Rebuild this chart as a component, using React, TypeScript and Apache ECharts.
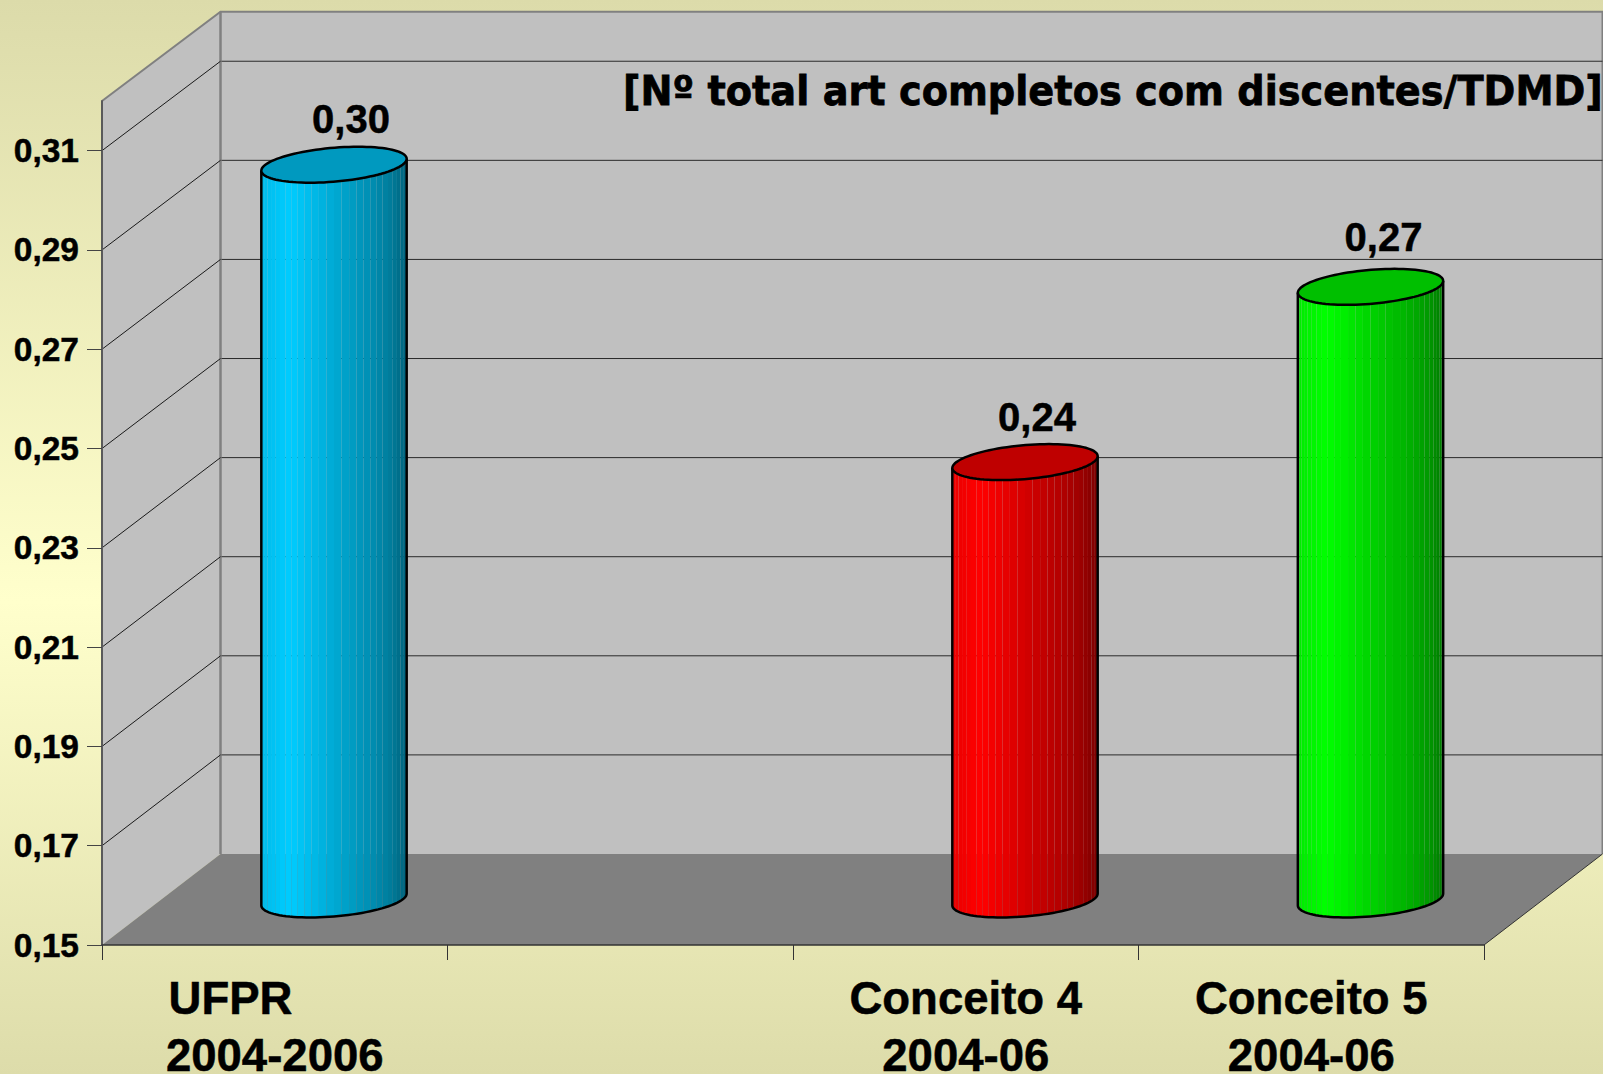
import React, { useEffect, useRef } from "react";
import * as echarts from "echarts";

// ---- data ----
const categories = ["UFPR\u00a0\u00a0\u00a0\u00a0\u00a0\u00a0\u00a0\n2004-2006", "", "Conceito 4\n2004-06", "Conceito 5\n2004-06"];
const values = [0.298, null, 0.2381, 0.2734];
const tickValues = [0.15, 0.17, 0.19, 0.21, 0.23, 0.25, 0.27, 0.29, 0.31];
const titleText = "[Nº total art completos com discentes/TDMD]";

// ---- styles and geometry ----
const axisMin = 0.15;
const axisMax = 0.32;
const baseRgb = [[0, 204, 255], null, [255, 0, 0], [0, 255, 0]];
const labelShift = [[17, -46], [0, 0], [12, -45], [13, -49.5]];
const DEPTH_X = 118.5;
const DEPTH_Y = -91;
const BACK_SCALE = 0.998;
const WALL = "#c0c0c0";
const FLOOR = "#808080";
const EDGE = "#808080";
const ELL_A = 68.6;
const ELL_B = 24;
const ELL_D = 18;
const STRIPS = 30;
const shadeStops = [[0, 0.92], [0.2, 1], [0.5, 0.83], [0.75, 0.7], [0.9, 0.6], [1, 0.48]];

const font = "'Liberation Sans', Arial, sans-serif";

function shadeAt(u: number) {
  for (let i = 1; i < shadeStops.length; i++) {
    if (u <= shadeStops[i][0]) {
      const [u0, s0] = shadeStops[i - 1];
      const [u1, s1] = shadeStops[i];
      return s0 + ((u - u0) / (u1 - u0)) * (s1 - s0);
    }
  }
  return 0.48;
}
const rgb = (c: number[], m: number) => `rgb(${c.map((v) => Math.round(v * m)).join(",")})`;
const fmt = (v: number) => v.toFixed(2).replace(".", ",");

function ellipsePoint(cx: number, cy: number, t: number) {
  return [cx + ELL_A * Math.cos(t) + ELL_B * Math.sin(t), cy - ELL_D * Math.sin(t)];
}

function renderWalls(params: any, api: any) {
  const cs = params.coordSys;
  const left = cs.x;
  const right = cs.x + cs.width;
  const floorY = api.coord([0, axisMin])[1];
  const topY = api.coord([0, axisMax])[1];
  const backFloorY = floorY + DEPTH_Y;
  const backTopY = backFloorY + (topY - floorY) * BACK_SCALE;
  const bl = left + DEPTH_X;
  const br = right + DEPTH_X;
  return {
    type: "group",
    children: [
      { type: "polygon", shape: { points: [[bl, backTopY], [br, backTopY], [br, backFloorY], [bl, backFloorY]] }, style: { fill: WALL } },
      { type: "polygon", shape: { points: [[left, topY], [bl, backTopY], [bl, backFloorY], [left, floorY]] }, style: { fill: WALL } },
      { type: "polygon", shape: { points: [[left, floorY], [bl, backFloorY], [br, backFloorY], [right, floorY]] }, style: { fill: FLOOR } },
      { type: "polyline", shape: { points: [[left, topY], [bl, backTopY], [br, backTopY], [br, backFloorY]] }, style: { fill: "none", stroke: EDGE, lineWidth: 2 } },
      { type: "line", shape: { x1: bl, y1: backTopY, x2: bl, y2: backFloorY }, style: { stroke: EDGE, lineWidth: 2.5 } },
      { type: "line", shape: { x1: right, y1: floorY, x2: br, y2: backFloorY }, style: { stroke: "#333", lineWidth: 1 } },
    ],
  };
}

function renderGridLine(params: any, api: any) {
  const v = api.value(1);
  if (v === axisMin) return { type: "group", children: [] };
  const cs = params.coordSys;
  const floorY = api.coord([0, axisMin])[1];
  const y = api.coord([0, v])[1];
  const backY = floorY + DEPTH_Y + (y - floorY) * BACK_SCALE;
  const bl = cs.x + DEPTH_X;
  const br = cs.x + cs.width + DEPTH_X;
  return {
    type: "group",
    children: [
      { type: "line", shape: { x1: cs.x, y1: y, x2: bl, y2: backY }, style: { stroke: "#1a1a1a", lineWidth: 1 } },
      { type: "line", shape: { x1: bl + 1, y1: backY, x2: br, y2: backY }, style: { stroke: "#2a2a2a", lineWidth: 1 } },
    ],
  };
}

function renderCylinder(params: any, api: any) {
  const v = api.value(1);
  const cat = api.value(0);
  const base = baseRgb[cat] as number[];
  const [fx, fTop] = api.coord([cat, v]);
  const fBottom = api.coord([cat, axisMin])[1];
  const cx = fx + DEPTH_X / 2;
  const cyTop = fTop + DEPTH_Y / 2;
  const cyBottom = fBottom + DEPTH_Y / 2;
  const tRight = Math.atan2(ELL_B, ELL_A);
  const tStart = tRight + Math.PI;
  const children: any[] = [];
  const leftX = cx - Math.hypot(ELL_A, ELL_B);
  const span = 2 * Math.hypot(ELL_A, ELL_B);
  for (let i = 0; i < STRIPS; i++) {
    const a = tStart + (Math.PI * i) / STRIPS;
    const b = tStart + (Math.PI * (i + 1)) / STRIPS;
    const pts: number[][] = [];
    const seg = 3;
    for (let k = 0; k <= seg; k++) pts.push(ellipsePoint(cx, cyTop, a + ((b - a) * k) / seg));
    for (let k = seg; k >= 0; k--) pts.push(ellipsePoint(cx, cyBottom, a + ((b - a) * k) / seg));
    const mid = ellipsePoint(cx, cyTop, (a + b) / 2)[0];
    children.push({
      type: "polygon",
      shape: { points: pts },
      style: { fill: rgb(base, shadeAt((mid - leftX) / span)) },
    });
  }
  const lower: number[][] = [];
  const topOutline: number[][] = [];
  for (let k = 0; k <= 48; k++) lower.push(ellipsePoint(cx, cyBottom, tStart + (Math.PI * k) / 48));
  for (let k = 0; k < 96; k++) topOutline.push(ellipsePoint(cx, cyTop, (2 * Math.PI * k) / 96));
  const tl = ellipsePoint(cx, cyTop, tStart);
  const tr = ellipsePoint(cx, cyTop, tRight);
  children.push({
    type: "polyline",
    shape: { points: [tl, ...lower, tr] },
    style: { fill: "none", stroke: "#000", lineWidth: 2.5 },
  });
  children.push({
    type: "polygon",
    shape: { points: topOutline },
    style: { fill: rgb(base, 0.75), stroke: "#000", lineWidth: 2.5 },
  });
  const shift = labelShift[cat];
  children.push({
    type: "text",
    style: {
      text: fmt(v),
      x: cx + shift[0],
      y: cyTop + shift[1],
      align: "center",
      verticalAlign: "middle",
      fontFamily: font,
      fontWeight: "bold",
      fontSize: 40,
      fill: "#000",
      stroke: "#000",
      lineWidth: 0.5,
    },
  });
  return { type: "group", children };
}

export default function App() {
  const ref = useRef<HTMLDivElement>(null);
  useEffect(() => {
    document.body.style.margin = "0";
    const chart = echarts.init(ref.current!, null, { renderer: "svg" });
    chart.setOption({
      animation: false,
      backgroundColor: "transparent",
      grid: { left: 102, right: 119, top: 101, bottom: 129, containLabel: false, outerBoundsMode: "none" },
      xAxis: {
        type: "category",
        data: categories,
        z: 5,
        axisLine: { lineStyle: { color: "#333", width: 1.5 } },
        axisTick: { show: true, length: 15, alignWithLabel: false, interval: 0, lineStyle: { color: "#333", width: 1 } },
        axisLabel: {
          interval: 0,
          margin: 25,
          color: "#000",
          fontFamily: font,
          fontWeight: "bold",
          fontSize: 45.5,
          lineHeight: 57,
          hideOverlap: false,
          textBorderColor: "#000",
          textBorderWidth: 0.5,
        },
        splitLine: { show: false },
      },
      yAxis: {
        type: "value",
        min: axisMin,
        max: axisMax,
        z: 5,
        axisLine: { show: true, lineStyle: { color: "#5a5a5a", width: 2 } },
        axisTick: { show: true, length: 15, customValues: tickValues, lineStyle: { color: "#444", width: 1 } },
        axisLabel: {
          customValues: tickValues,
          margin: 23,
          padding: [0, 0, 4, 0],
          color: "#000",
          fontFamily: font,
          fontWeight: "bold",
          fontSize: 33.5,
          textBorderColor: "#000",
          textBorderWidth: 0.5,
          formatter: (v: number) => fmt(v),
        },
        splitLine: { show: false },
      },
      graphic: [
        {
          type: "text",
          z: 10,
          x: 623,
          y: 91,
          scaleX: 0.934,
          style: {
            text: titleText,
            fontFamily: "'DejaVu Sans'",
            fontWeight: "bold",
            fontSize: 41,
            fill: "#000",
            stroke: "#000",
            lineWidth: 0.8,
            align: "left",
            verticalAlign: "middle",
          },
        },
      ],
      series: [
        { type: "custom", name: "planos", z: 1, silent: true, encode: { x: 0, y: 1 }, data: [[0, axisMin]], renderItem: renderWalls },
        { type: "custom", name: "grade", z: 2, silent: true, encode: { x: 0, y: 1 }, data: tickValues.map((v) => [0, v]), renderItem: renderGridLine },
        {
          type: "custom",
          name: "valores",
          z: 3,
          silent: true,
          encode: { x: 0, y: 1 },
          data: values.map((v, i) => [i, v]).filter((d) => d[1] !== null),
          renderItem: renderCylinder,
        },
      ],
    });
    return () => chart.dispose();
  }, []);
  return (
    <div
      style={{
        width: 1603,
        height: 1074,
        overflow: "hidden",
        background: "linear-gradient(180deg, #dcdbaa 0%, #ffffcc 56%, #dddcaa 100%)",
      }}
    >
      <div ref={ref} style={{ width: 1603, height: 1074 }} />
    </div>
  );
}
